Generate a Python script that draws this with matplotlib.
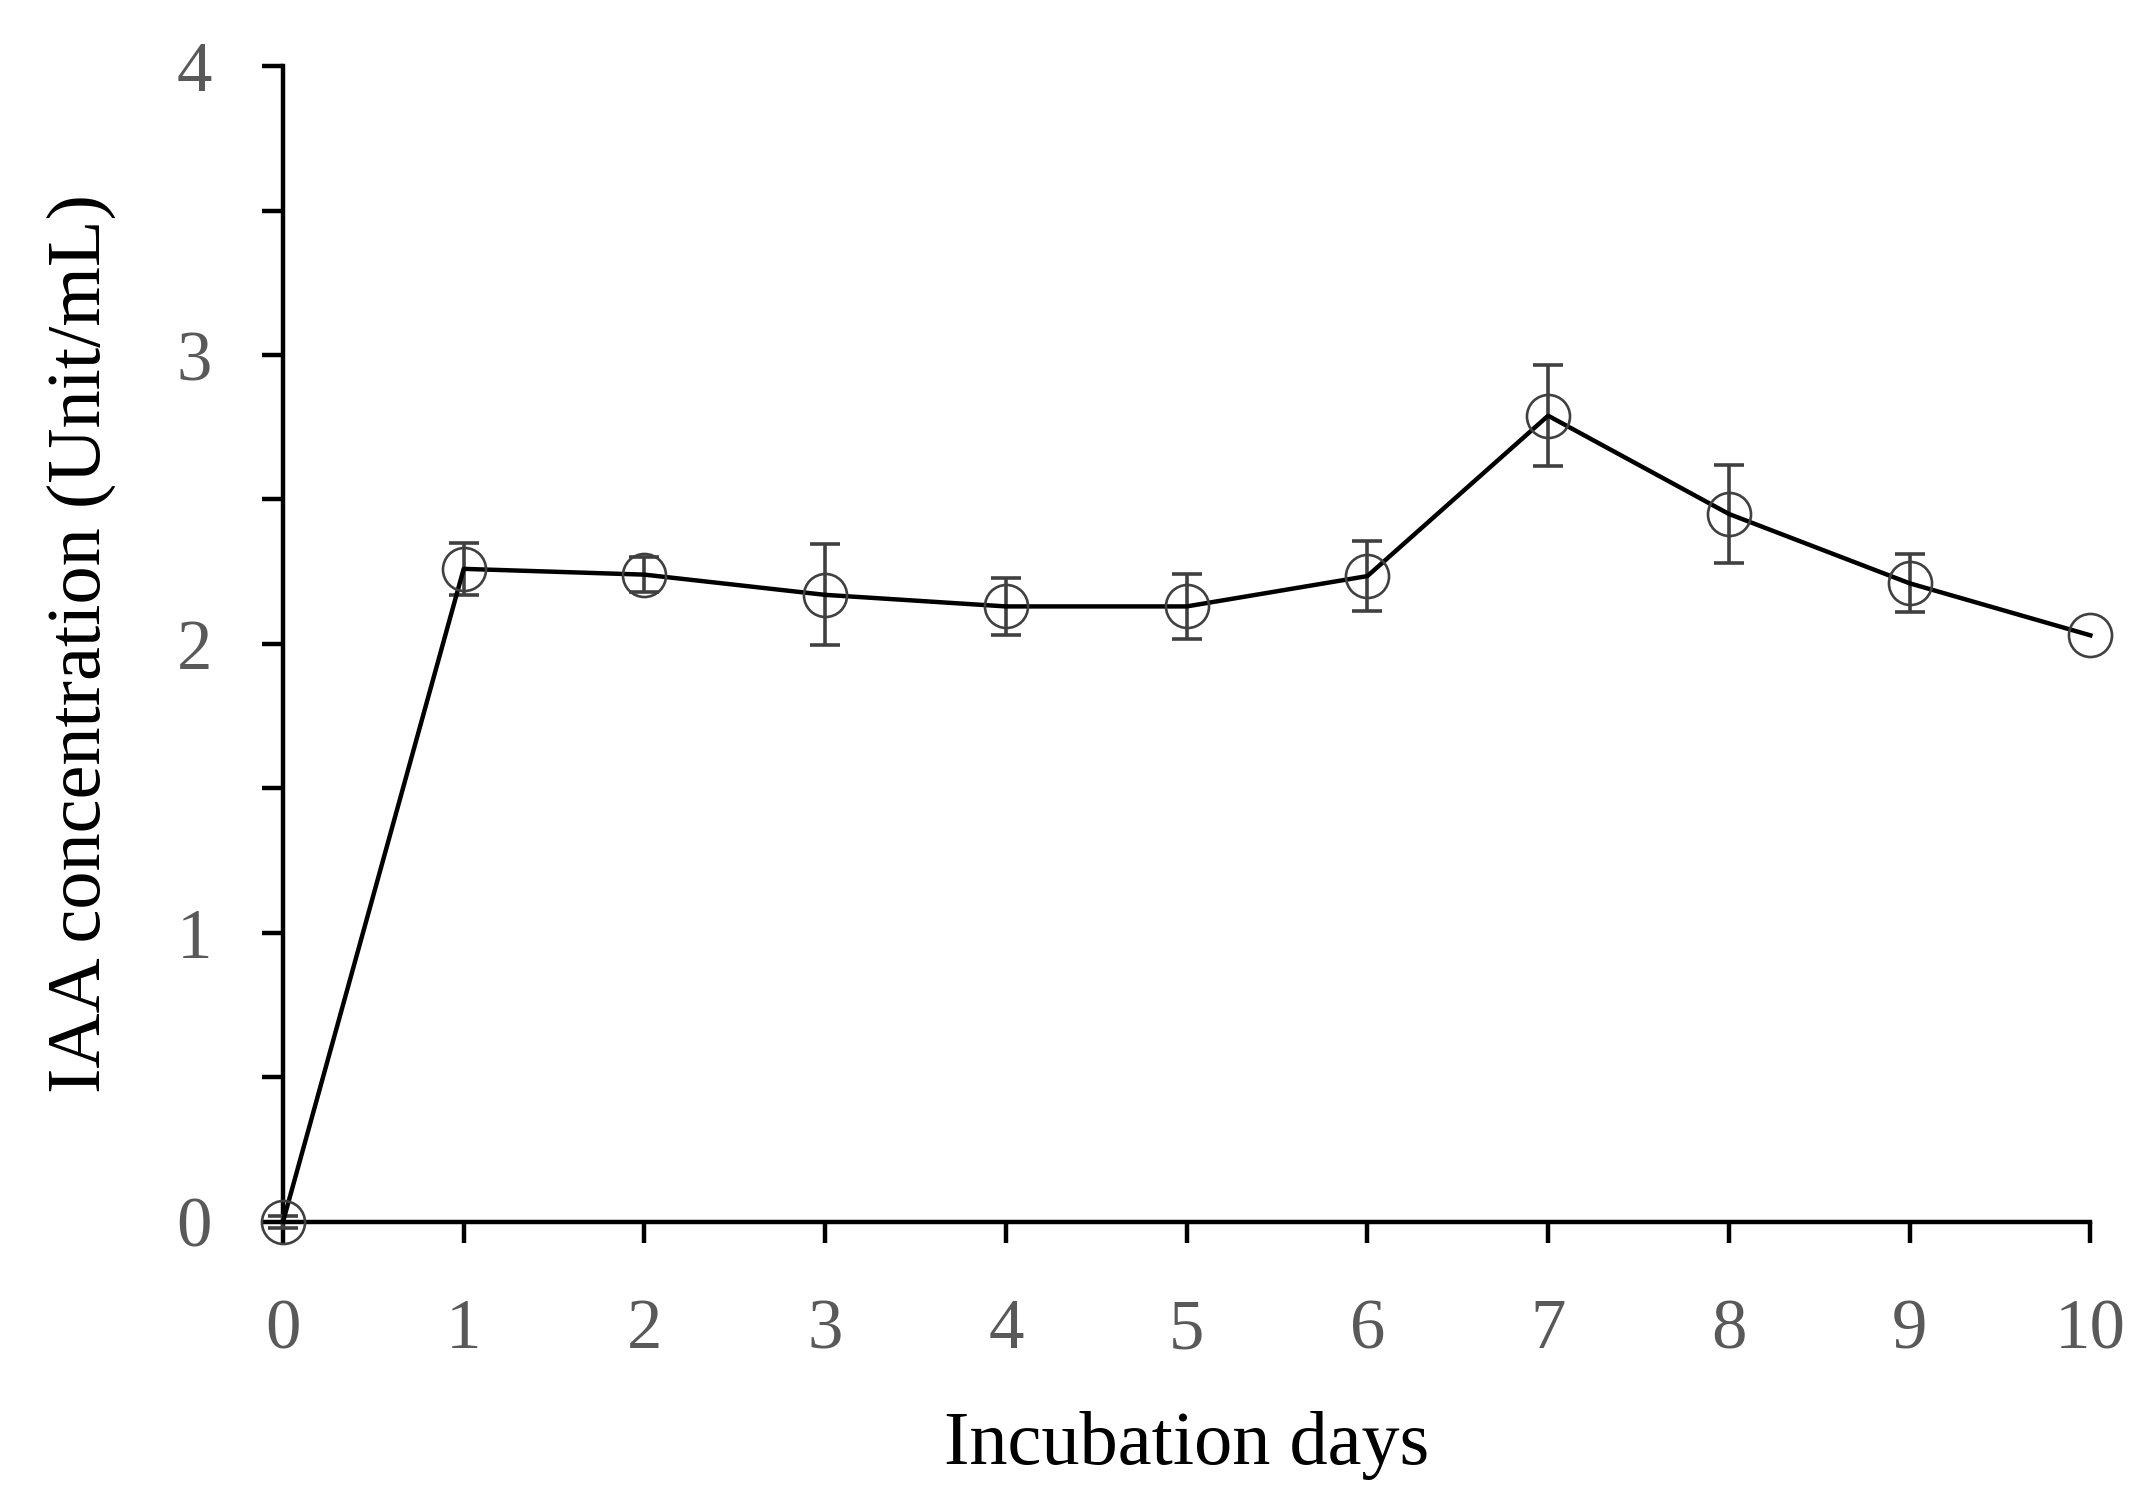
import matplotlib
matplotlib.use("Agg")
import matplotlib.pyplot as plt
from matplotlib.ticker import MultipleLocator

days = [0, 1, 2, 3, 4, 5, 6, 7, 8, 9, 10]
iaa = [0.0, 2.26, 2.24, 2.17, 2.13, 2.13, 2.235, 2.79, 2.45, 2.21, 2.03]
err = [0.02, 0.09, 0.06, 0.175, 0.10, 0.113, 0.122, 0.175, 0.17, 0.10, 0.0]
x_ticks = [0, 1, 2, 3, 4, 5, 6, 7, 8, 9, 10]
y_ticks = [0, 1, 2, 3, 4]

plt.rcParams['font.family'] = ['Liberation Serif', 'DejaVu Serif']

fig = plt.figure(figsize=(21.55, 15.11), dpi=100)
ax = fig.add_axes([0.1313, 0.1913, 0.8387, 0.765])

grey = '#404040'
idx = [i for i, e in enumerate(err) if e > 0]
ax.errorbar([days[i] for i in idx], [iaa[i] for i in idx],
            yerr=[err[i] for i in idx], fmt='none', ecolor=grey,
            elinewidth=2.6, capsize=11, capthick=2.6, clip_on=False, zorder=3)
ax.plot(days, iaa, color='black', lw=3.2, clip_on=False, zorder=4)
ax.plot(days, iaa, linestyle='none', marker='o', markersize=31,
        markerfacecolor='none', markeredgecolor=grey, markeredgewidth=1.9,
        clip_on=False, zorder=5)

ax.set_xlim(0, 10)
ax.set_ylim(0, 4)
ax.set_xticks(x_ticks)
ax.set_yticks(y_ticks)
ax.yaxis.set_minor_locator(MultipleLocator(0.5))

for s in ['top', 'right']:
    ax.spines[s].set_visible(False)
for s in ['left', 'bottom']:
    ax.spines[s].set_linewidth(3.2)
    ax.spines[s].set_color('black')

ax.tick_params(axis='both', which='both', direction='out', length=15,
               width=3.2, color='black')
ax.tick_params(axis='x', which='minor', bottom=False)
ax.tick_params(axis='y', which='major', pad=36, labelsize=51, labelcolor='#595959')
ax.tick_params(axis='x', which='major', pad=40, labelsize=51, labelcolor='#595959')

ax.set_xlabel('Incubation days', fontsize=55, color='black', labelpad=34)
ax.set_ylabel('IAA concentration (Unit/mL)', fontsize=55, color='black', labelpad=44)

fig.savefig('out.png', dpi=100, facecolor='white')
